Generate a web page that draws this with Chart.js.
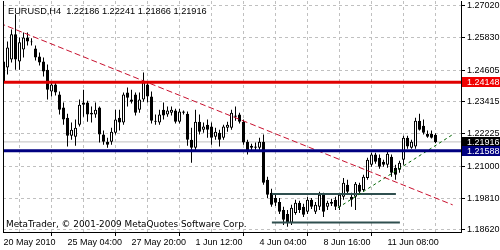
<!DOCTYPE html>
<html>
<head>
<meta charset="utf-8">
<script src="https://cdn.jsdelivr.net/npm/chart.js@4.4.0/dist/chart.umd.min.js"></script>
<style>
  html, body { margin: 0; padding: 0; background: #fff; }
  .wrap { position: relative; width: 500px; height: 250px; overflow: hidden; }
  #myChart { position: absolute; left: 0; top: 0; }
  .header { position: absolute; left: 8px; top: 6px; font: 9.2px/10px "Liberation Sans", Arial, sans-serif; color: #000; white-space: pre; }
  .copy { position: absolute; left: 6px; top: 219px; font: 8.9px/10px "DejaVu Sans", sans-serif; color: #000; white-space: pre; }
</style>
</head>
<body>
<div class="wrap">
  <canvas id="myChart" width="500" height="250"></canvas>
  <div class="header">EURUSD,H4  1.22186 1.22241 1.21866 1.21916</div>
  <div class="copy">MetaTrader, © 2001-2009 MetaQuotes Software Corp.</div>
</div>
<script>
// H4 bars, index 0 = 20 May 2010 12:00
const timeLabels = ['20 May 2010', '25 May 04:00', '27 May 20:00', '1 Jun 12:00', '4 Jun 04:00', '8 Jun 16:00', '11 Jun 08:00'];
const gridIdx = [0, 8, 16, 24, 32, 40, 48, 56, 64, 72, 80, 88, 96, 104, 112];
const priceTicks = [1.18620, 1.19810, 1.21000, 1.22225, 1.23415, 1.24605, 1.25830, 1.27020];

const open = [
  1.2417, 1.2470, 1.2500, 1.2594, 1.2492, 1.2537, 1.2582, 1.2567, 1.2541, 1.2511,
  1.2492, 1.2462, 1.2380, 1.2406, 1.2369, 1.2320, 1.2282, 1.2215, 1.2211, 1.2256,
  1.2339, 1.2339, 1.2301, 1.2294, 1.2320, 1.2219, 1.2192, 1.2192, 1.2226, 1.2282,
  1.2264, 1.2376, 1.2350, 1.2369, 1.2312, 1.2350, 1.2406, 1.2361, 1.2271, 1.2264,
  1.2312, 1.2294, 1.2301, 1.2309, 1.2267, 1.2305, 1.2297, 1.2200, 1.2170, 1.2267,
  1.2237, 1.2256, 1.2249, 1.2211, 1.2226, 1.2207, 1.2245, 1.2245, 1.2290, 1.2294,
  1.2267, 1.2192, 1.2170, 1.2174, 1.2170, 1.2192, 1.2050, 1.2001, 1.1982, 1.1967,
  1.1937, 1.1922, 1.1889, 1.1926, 1.1964, 1.1949, 1.1930, 1.1975, 1.1930, 1.1949,
  1.1994, 1.1949, 1.1967, 1.1975, 1.1949, 1.1986, 1.2031, 1.1986, 1.1986, 1.2031,
  1.2012, 1.2057, 1.2106, 1.2144, 1.2132, 1.2117, 1.2106, 1.2136, 1.2095, 1.2087,
  1.2125, 1.2207, 1.2170, 1.2174, 1.2271, 1.2252, 1.2222, 1.2222, 1.22186
];
const high = [
  1.2594, 1.2567, 1.2612, 1.2669, 1.2582, 1.2601, 1.2601, 1.2579, 1.2552, 1.2526,
  1.2507, 1.2481, 1.2417, 1.2414, 1.2380, 1.2339, 1.2297, 1.2264, 1.2275, 1.2350,
  1.2387, 1.2346, 1.2324, 1.2339, 1.2324, 1.2234, 1.2207, 1.2245, 1.2312, 1.2312,
  1.2376, 1.2395, 1.2387, 1.2376, 1.2376, 1.2451, 1.2417, 1.2380, 1.2294, 1.2312,
  1.2339, 1.2324, 1.2324, 1.2316, 1.2316, 1.2309, 1.2305, 1.2245, 1.2312, 1.2294,
  1.2264, 1.2275, 1.2264, 1.2245, 1.2237, 1.2256, 1.2267, 1.2312, 1.2324, 1.2301,
  1.2275, 1.2200, 1.2185, 1.2189, 1.2207, 1.2219, 1.2061, 1.2016, 1.1997, 1.1982,
  1.1949, 1.1937, 1.1956, 1.1975, 1.1971, 1.1960, 1.1986, 1.1982, 1.1967, 1.2005,
  1.2001, 1.1971, 1.1979, 1.1986, 1.2001, 1.2057, 1.2050, 1.2001, 1.2042, 1.2039,
  1.2069, 1.2132, 1.2151, 1.2151, 1.2144, 1.2125, 1.2155, 1.2144, 1.2106, 1.2121,
  1.2215, 1.2215, 1.2200, 1.2282, 1.2297, 1.2275, 1.2234, 1.2234, 1.22241
];
const low = [
  1.2339, 1.2444, 1.2489, 1.2462, 1.2462, 1.2507, 1.2552, 1.2552, 1.2496, 1.2477,
  1.2436, 1.2350, 1.2361, 1.2365, 1.2294, 1.2256, 1.2174, 1.2200, 1.2177, 1.2249,
  1.2286, 1.2267, 1.2264, 1.2282, 1.2189, 1.2181, 1.2170, 1.2181, 1.2219, 1.2234,
  1.2256, 1.2324, 1.2335, 1.2290, 1.2301, 1.2342, 1.2339, 1.2260, 1.2256, 1.2256,
  1.2275, 1.2286, 1.2290, 1.2260, 1.2260, 1.2294, 1.2177, 1.2114, 1.2155, 1.2219,
  1.2226, 1.2207, 1.2181, 1.2200, 1.2174, 1.2200, 1.2230, 1.2237, 1.2271, 1.2260,
  1.2181, 1.2144, 1.2155, 1.2159, 1.2162, 1.2031, 1.1982, 1.1949, 1.1952, 1.1922,
  1.1881, 1.1874, 1.1881, 1.1919, 1.1926, 1.1911, 1.1922, 1.1941, 1.1922, 1.1937,
  1.1911, 1.1937, 1.1952, 1.1937, 1.1937, 1.1975, 1.1994, 1.1949, 1.1937, 1.1997,
  1.2005, 1.2050, 1.2099, 1.2110, 1.2091, 1.2099, 1.2095, 1.2061, 1.2050, 1.2076,
  1.2106, 1.2166, 1.2166, 1.2166, 1.2234, 1.2219, 1.2207, 1.2204, 1.21866
];
const close = [
  1.2492, 1.2545, 1.2594, 1.2500, 1.2564, 1.2582, 1.2567, 1.2564, 1.2507, 1.2489,
  1.2455, 1.2387, 1.2406, 1.2376, 1.2312, 1.2275, 1.2215, 1.2237, 1.2245, 1.2331,
  1.2331, 1.2294, 1.2294, 1.2312, 1.2219, 1.2192, 1.2181, 1.2230, 1.2275, 1.2264,
  1.2369, 1.2357, 1.2342, 1.2301, 1.2350, 1.2414, 1.2361, 1.2271, 1.2267, 1.2294,
  1.2290, 1.2309, 1.2312, 1.2267, 1.2305, 1.2301, 1.2200, 1.2170, 1.2267, 1.2230,
  1.2249, 1.2237, 1.2207, 1.2230, 1.2200, 1.2249, 1.2256, 1.2301, 1.2286, 1.2267,
  1.2189, 1.2155, 1.2177, 1.2170, 1.2192, 1.2039, 1.1994, 1.1956, 1.1964, 1.1930,
  1.1900, 1.1889, 1.1945, 1.1964, 1.1937, 1.1919, 1.1975, 1.1949, 1.1956, 1.1994,
  1.1930, 1.1964, 1.1960, 1.1949, 1.1994, 1.2039, 1.2005, 1.1975, 1.2035, 1.2005,
  1.2061, 1.2125, 1.2144, 1.2117, 1.2099, 1.2106, 1.2147, 1.2076, 1.2069, 1.2114,
  1.2207, 1.2174, 1.2192, 1.2271, 1.2237, 1.2226, 1.2211, 1.2207, 1.21916
];

// drawn objects (x = bar index, y = price)
const resistance = 1.24148;
const support = 1.21588;
const downTrendX = [-1, 112.3];
const downTrendY = [1.2636, 1.1956];
const upTrendX = [83.6, 112.4];
const upTrendY = [1.1945, 1.2220];
const rangeTopX = [67.1, 98.1];
const rangeTopY = [1.1997, 1.1997];
const rangeLowX = [67.1, 99.1];
const rangeLowY = [1.1890, 1.1890];

const bid = close[close.length - 1];

const toPoints = (xs, ys) => xs.map((x, i) => ({x: x, y: ys[i]}));

const wicks = close.map((c, i) => ({x: i, y: [low[i], high[i]]}));
const bodies = close.map((c, i) => ({x: i, y: [open[i], close[i]]}));

const priceBoxes = [
  {value: resistance, color: '#f00000'},
  {value: bid, color: '#000000'},
  {value: support, color: '#000080'}
];

const overlay = {
  id: 'overlay',
  afterDraw(chart) {
    const c = chart.ctx;
    const area = chart.chartArea;
    const y = chart.scales.y;
    c.save();
    c.strokeStyle = '#000';
    c.lineWidth = 1;
    c.beginPath();
    c.moveTo(area.left + 0.5, area.top);
    c.lineTo(area.left + 0.5, area.bottom);
    c.stroke();
    c.font = '9px "Liberation Sans", Arial, sans-serif';
    c.textBaseline = 'middle';
    priceBoxes.forEach(b => {
      const py = Math.round(y.getPixelForValue(b.value));
      c.fillStyle = b.color;
      c.fillRect(area.right + 1, py - 5, 39, 10);
      c.fillStyle = '#fff';
      c.fillText(b.value.toFixed(5), area.right + 6, py + 0.5);
    });
    c.restore();
  }
};

Chart.defaults.font.family = '"Liberation Sans", Arial, sans-serif';
Chart.defaults.font.size = 9;
Chart.defaults.color = '#000';

const ctx = document.getElementById('myChart');

let myChart = new Chart(ctx, {
  type: 'bar',
  data: {
    datasets: [
      {type: 'line', data: toPoints([-1, 120], [resistance, resistance]), borderColor: '#e00000', borderWidth: 3, pointRadius: 0, order: 0},
      {type: 'line', data: toPoints([-1, 120], [support, support]), borderColor: '#000080', borderWidth: 3, pointRadius: 0, order: 0},
      {type: 'line', data: toPoints([-1, 120], [bid, bid]), borderColor: '#c0c0c0', borderWidth: 1, pointRadius: 0, order: 3},
      {type: 'line', data: toPoints(downTrendX, downTrendY), borderColor: '#c8102e', borderWidth: 1, borderDash: [6, 3], pointRadius: 0, order: 0},
      {type: 'line', data: toPoints(upTrendX, upTrendY), borderColor: '#006400', borderWidth: 1, borderDash: [3, 3], pointRadius: 0, order: 0},
      {type: 'line', data: toPoints(rangeTopX, rangeTopY), borderColor: '#2f4f4f', borderWidth: 2, pointRadius: 0, order: 0},
      {type: 'line', data: toPoints(rangeLowX, rangeLowY), borderColor: '#2f4f4f', borderWidth: 2, pointRadius: 0, order: 0},
      {
        data: wicks,
        backgroundColor: '#000',
        borderWidth: 0,
        barThickness: 1,
        grouped: false,
        inflateAmount: 0,
        order: 2
      },
      {
        data: bodies,
        backgroundColor: c => close[c.dataIndex] >= open[c.dataIndex] ? '#fff' : '#000',
        borderColor: '#000',
        borderWidth: 1,
        borderSkipped: false,
        barThickness: 3,
        grouped: false,
        inflateAmount: 0,
        order: 1
      }
    ]
  },
  options: {
    responsive: false,
    animation: false,
    events: [],
    layout: {padding: {left: 3, top: 1, right: 0, bottom: 0}},
    plugins: {legend: {display: false}, tooltip: {enabled: false}},
    scales: {
      x: {
        type: 'linear',
        min: -0.125,
        max: 114.375,
        offset: false,
        afterBuildTicks: s => { s.ticks = gridIdx.map(v => ({value: v})); },
        afterFit: s => { s.height = 18; s.paddingLeft = 0; s.paddingRight = 0; },
        ticks: {
          autoSkip: false,
          maxRotation: 0,
          minRotation: 0,
          align: 'start',
          padding: 1,
          callback: v => v % 16 === 0 ? timeLabels[v / 16] : ''
        },
        grid: {
          color: '#c0c0c0',
          tickLength: 4,
          tickColor: c => c.tick && c.tick.value % 16 === 0 ? '#000' : 'rgba(0,0,0,0)'
        },
        border: {color: '#000', dash: [3, 3]}
      },
      y: {
        type: 'linear',
        position: 'right',
        min: 1.18545,
        max: 1.271875,
        afterBuildTicks: s => { s.ticks = priceTicks.map(v => ({value: v})); },
        afterFit: s => { s.width = 39; s.paddingTop = 0; s.paddingBottom = 0; },
        ticks: {padding: 2, callback: v => v.toFixed(5)},
        grid: {color: '#c0c0c0', tickLength: 4, tickColor: '#000'},
        border: {color: '#000', dash: [3, 3]}
      }
    }
  },
  plugins: [overlay]
});
</script>
</body>
</html>
